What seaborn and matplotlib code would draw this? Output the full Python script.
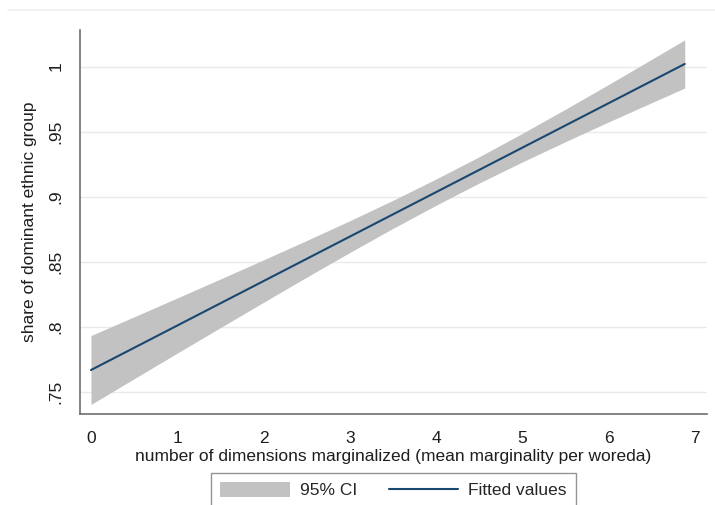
import numpy as np
import pandas as pd
import matplotlib
matplotlib.use("Agg")
import matplotlib.pyplot as plt
from matplotlib.lines import Line2D
from matplotlib.patches import Patch
import seaborn as sns

# values (fitted line and 95% CI band)
x_vals = [0.0, 0.5, 1.0, 1.5, 2.0, 2.5, 3.0, 3.5, 4.0, 4.5, 5.0, 5.5, 6.0, 6.5, 6.88]
fitted = [0.7667, 0.7838, 0.8009, 0.8180, 0.8351, 0.8522, 0.8693, 0.8864,
          0.9035, 0.9206, 0.9377, 0.9548, 0.9719, 0.9890, 1.0020]
ci_low = [0.7402, 0.7600, 0.7797, 0.7993, 0.8188, 0.8381, 0.8571, 0.8756,
          0.8934, 0.9105, 0.9267, 0.9423, 0.9575, 0.9723, 0.9835]
ci_high = [0.7932, 0.8076, 0.8221, 0.8367, 0.8514, 0.8663, 0.8815, 0.8972,
           0.9136, 0.9307, 0.9487, 0.9673, 0.9863, 1.0057, 1.0205]

x_ticks = [0, 1, 2, 3, 4, 5, 6, 7]
y_ticks = [0.75, 0.8, 0.85, 0.9, 0.95, 1.0]
y_ticklabels = ['.75', '.8', '.85', '.9', '.95', '1']

df = pd.DataFrame({'x': x_vals, 'fit': fitted, 'lo': ci_low, 'hi': ci_high})

sns.set_style("white")
plt.rcParams['font.family'] = ['Liberation Sans', 'DejaVu Sans']

band_col = '#c2c2c2'
line_col = '#1a476f'
axis_col = '#6e6e6e'
text_col = '#1e1e1e'
fs = 12.5

fig = plt.figure(figsize=(7.15, 5.05), dpi=100)
ax = fig.add_axes([80/715, 1-414/505, (707-80)/715, (414-30)/505])

ax.fill_between(df.x, df.lo, df.hi, color=band_col, linewidth=0, zorder=2)
sns.lineplot(data=df, x='x', y='fit', ax=ax, color=line_col, linewidth=1.5,
             zorder=3, legend=False)

ax.set_xlim(-0.127, 7.138)
ax.set_ylim(0.7329, 1.0281)
ax.set_xticks(x_ticks)
ax.set_yticks(y_ticks)
ax.set_yticklabels(y_ticklabels, rotation=90, va='center')
for yt in y_ticks:
    ax.axhline(yt, color='#eaeaea', linewidth=1.0, zorder=1)

for side in ['top', 'right']:
    ax.spines[side].set_visible(False)
for side in ['left', 'bottom']:
    ax.spines[side].set_color(axis_col)
    ax.spines[side].set_linewidth(1.2)
ax.tick_params(axis='both', direction='out', length=4.5, width=1, color=axis_col,
               labelsize=fs, labelcolor=text_col, pad=7.5)

ax.set_xlabel('number of dimensions marginalized (mean marginality per woreda)',
              fontsize=fs, color=text_col, labelpad=2.5)
ax.set_ylabel('share of dominant ethnic group', fontsize=fs, color=text_col, labelpad=8)

# faint outer border line at the top
fig.add_artist(Line2D([8/715, 1.0], [1-10/505, 1-10/505], color='#eeeeee', linewidth=1.2))

handles = [Patch(facecolor=band_col, edgecolor='none', label='95% CI'),
           Line2D([0], [0], color=line_col, linewidth=1.5, label='Fitted values')]
leg = fig.legend(handles=handles, loc='upper center', ncol=2,
                 bbox_to_anchor=(393.5/715, 1-473/505), frameon=True, fancybox=False,
                 fontsize=fs, handlelength=4.0, handleheight=1.0, columnspacing=1.8,
                 borderpad=0.5, handletextpad=0.6, borderaxespad=0)
leg.get_frame().set_edgecolor('#7a7a7a')
leg.get_frame().set_linewidth(1.0)

fig.savefig('out.png', dpi=100)
